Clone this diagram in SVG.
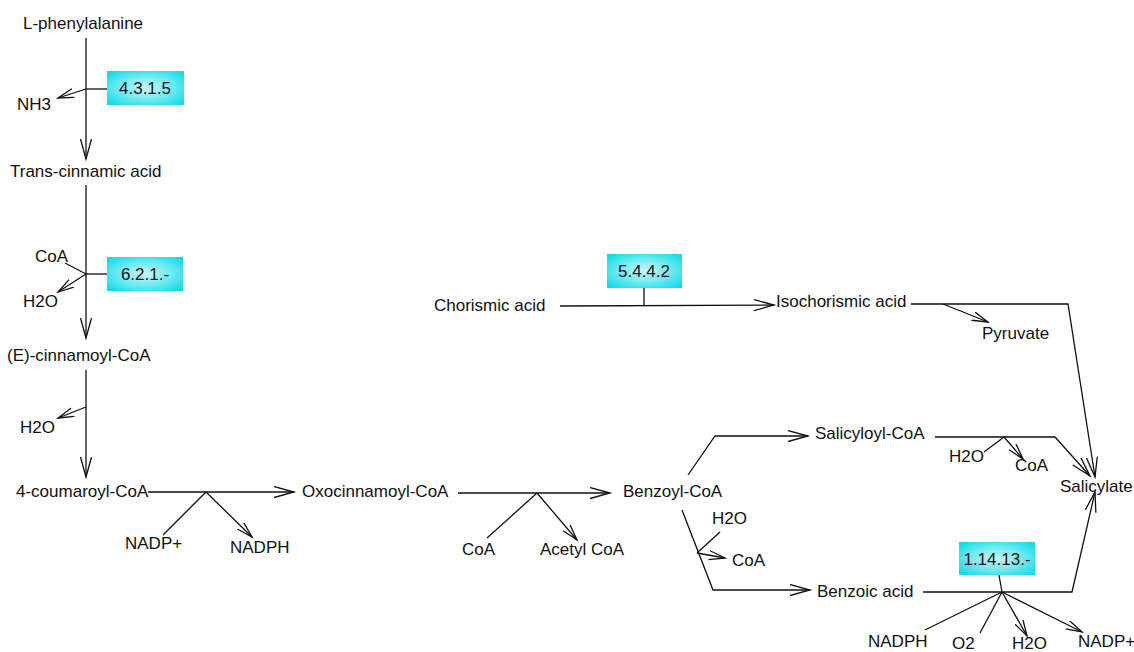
<svg xmlns="http://www.w3.org/2000/svg" width="1134" height="652" viewBox="0 0 1134 652">
  <style>
    text { font-family: "Liberation Sans", Arial, sans-serif; font-size: 17px; fill: #111; }
    .ec text { text-anchor: middle; }
    .ec rect { fill: url(#ecFill); stroke: none; }
    .c line, .c polyline { stroke: #111; stroke-width: 1.3; fill: none; }
    .main { marker-end: url(#arrowBig); }
    .side { marker-end: url(#arrowSmall); }
  </style>
  <defs>
    <radialGradient id="ecFill" cx="50%" cy="50%" r="65%">
      <stop offset="0%" stop-color="#c9f7fa"/>
      <stop offset="55%" stop-color="#6beaf2"/>
      <stop offset="100%" stop-color="#12dbe8"/>
    </radialGradient>
    <marker id="arrowBig" markerUnits="userSpaceOnUse" markerWidth="24" markerHeight="14" refX="20" refY="6" orient="auto">
      <path d="M0,0.5 L20,6 L0,11.5" fill="none" stroke="#111" stroke-width="1.3"/>
    </marker>
    <marker id="arrowSmall" markerUnits="userSpaceOnUse" markerWidth="20" markerHeight="12" refX="16" refY="5" orient="auto">
      <path d="M0,0.5 L16,5 L0,9.5" fill="none" stroke="#111" stroke-width="1.3"/>
    </marker>
  </defs>
  <rect width="1134" height="652" fill="#ffffff"/>

  <!-- reaction lines -->
  <g id="connectors" class="c">
    <!-- L-phenylalanine to Trans-cinnamic acid -->
    <line class="main" x1="86" y1="38" x2="86" y2="159"/>
    <line x1="107" y1="89" x2="86" y2="89"/>
    <line class="side" x1="86" y1="89" x2="58" y2="98"/>
    <!-- Trans-cinnamic acid to (E)-cinnamoyl-CoA -->
    <line class="main" x1="86" y1="185" x2="86" y2="338"/>
    <line x1="65" y1="263" x2="86" y2="274"/>
    <line x1="107" y1="274" x2="86" y2="274"/>
    <line class="side" x1="86" y1="274" x2="58" y2="292"/>
    <!-- (E)-cinnamoyl-CoA to 4-coumaroyl-CoA -->
    <line class="main" x1="86" y1="370" x2="86" y2="477"/>
    <line class="side" x1="86" y1="407" x2="58" y2="418"/>
    <!-- 4-coumaroyl-CoA to Oxocinnamoyl-CoA -->
    <line class="main" x1="148" y1="492" x2="294" y2="492"/>
    <line x1="163" y1="535" x2="206" y2="492"/>
    <line class="side" x1="206" y1="492" x2="252" y2="537"/>
    <!-- Oxocinnamoyl-CoA to Benzoyl-CoA -->
    <line class="main" x1="458" y1="493" x2="610" y2="493"/>
    <line x1="487" y1="538" x2="537" y2="493"/>
    <line class="side" x1="537" y1="493" x2="577" y2="540"/>
    <!-- Benzoyl-CoA branches -->
    <polyline class="main" points="688,475 715,436 808,436"/>
    <polyline class="main" points="682,510 713,590 810,590"/>
    <line x1="720" y1="532" x2="697" y2="553"/>
    <line class="side" x1="697" y1="553" x2="725" y2="558"/>
    <!-- Salicyloyl-CoA to Salicylate -->
    <polyline class="main" points="935,437 1055,437 1090,476"/>
    <line x1="984" y1="452" x2="1004" y2="437"/>
    <line class="side" x1="1004" y1="437" x2="1023" y2="459"/>
    <!-- Chorismic acid to Isochorismic acid -->
    <line class="main" x1="560" y1="306" x2="774" y2="305"/>
    <line x1="644" y1="288" x2="644" y2="306"/>
    <!-- Isochorismic acid to Salicylate -->
    <polyline class="main" points="911,304 1068,304 1095,477"/>
    <line class="side" x1="943" y1="304" x2="988" y2="322"/>
    <!-- Benzoic acid to Salicylate -->
    <polyline class="main" points="923,592 1072,592 1095,492"/>
    <line x1="999" y1="575" x2="1002" y2="592"/>
    <line x1="925" y1="630" x2="1002" y2="592"/>
    <line x1="980" y1="633" x2="1002" y2="592"/>
    <line class="side" x1="1002" y1="592" x2="1027" y2="636"/>
    <line class="side" x1="1002" y1="592" x2="1082" y2="632"/>
  </g>

  <!-- enzymes -->
  <g id="ec-4.3.1.5" class="ec"><rect x="107" y="71" width="77" height="34"/><text x="145" y="94">4.3.1.5</text></g>
  <g id="ec-6.2.1" class="ec"><rect x="107" y="257" width="76" height="34"/><text x="145" y="280">6.2.1.-</text></g>
  <g id="ec-5.4.4.2" class="ec"><rect x="607" y="254" width="75" height="34"/><text x="644" y="277">5.4.4.2</text></g>
  <g id="ec-1.14.13" class="ec"><rect x="959" y="542" width="76" height="33"/><text x="997" y="565">1.14.13.-</text></g>

  <!-- compounds -->
  <g id="l-phenylalanine"><text x="23" y="29">L-phenylalanine</text></g>
  <g id="nh3"><text x="17" y="110">NH3</text></g>
  <g id="trans-cinnamic-acid"><text x="10" y="177">Trans-cinnamic acid</text></g>
  <g id="coa-1"><text x="35" y="262">CoA</text></g>
  <g id="h2o-1"><text x="23" y="307">H2O</text></g>
  <g id="e-cinnamoyl-coa"><text x="7" y="361">(E)-cinnamoyl-CoA</text></g>
  <g id="h2o-2"><text x="20" y="433">H2O</text></g>
  <g id="4-coumaroyl-coa"><text x="16" y="497">4-coumaroyl-CoA</text></g>
  <g id="nadp-1"><text x="125" y="549">NADP+</text></g>
  <g id="nadph-1"><text x="230" y="553">NADPH</text></g>
  <g id="oxocinnamoyl-coa"><text x="302" y="497">Oxocinnamoyl-CoA</text></g>
  <g id="coa-2"><text x="462" y="555">CoA</text></g>
  <g id="acetyl-coa"><text x="540" y="555">Acetyl CoA</text></g>
  <g id="benzoyl-coa"><text x="623" y="497">Benzoyl-CoA</text></g>
  <g id="h2o-3"><text x="712" y="524">H2O</text></g>
  <g id="coa-3"><text x="732" y="566">CoA</text></g>
  <g id="benzoic-acid"><text x="817" y="597">Benzoic acid</text></g>
  <g id="salicyloyl-coa"><text x="815" y="439">Salicyloyl-CoA</text></g>
  <g id="h2o-4"><text x="949" y="462">H2O</text></g>
  <g id="coa-4"><text x="1015" y="471">CoA</text></g>
  <g id="salicylate"><text x="1060" y="492">Salicylate</text></g>
  <g id="chorismic-acid"><text x="434" y="311">Chorismic acid</text></g>
  <g id="isochorismic-acid"><text x="776" y="307">Isochorismic acid</text></g>
  <g id="pyruvate"><text x="982" y="339">Pyruvate</text></g>
  <g id="nadph-2"><text x="868" y="647">NADPH</text></g>
  <g id="o2"><text x="952" y="649">O2</text></g>
  <g id="h2o-5"><text x="1012" y="649">H2O</text></g>
  <g id="nadp-2"><text x="1078" y="647">NADP+</text></g>
</svg>
